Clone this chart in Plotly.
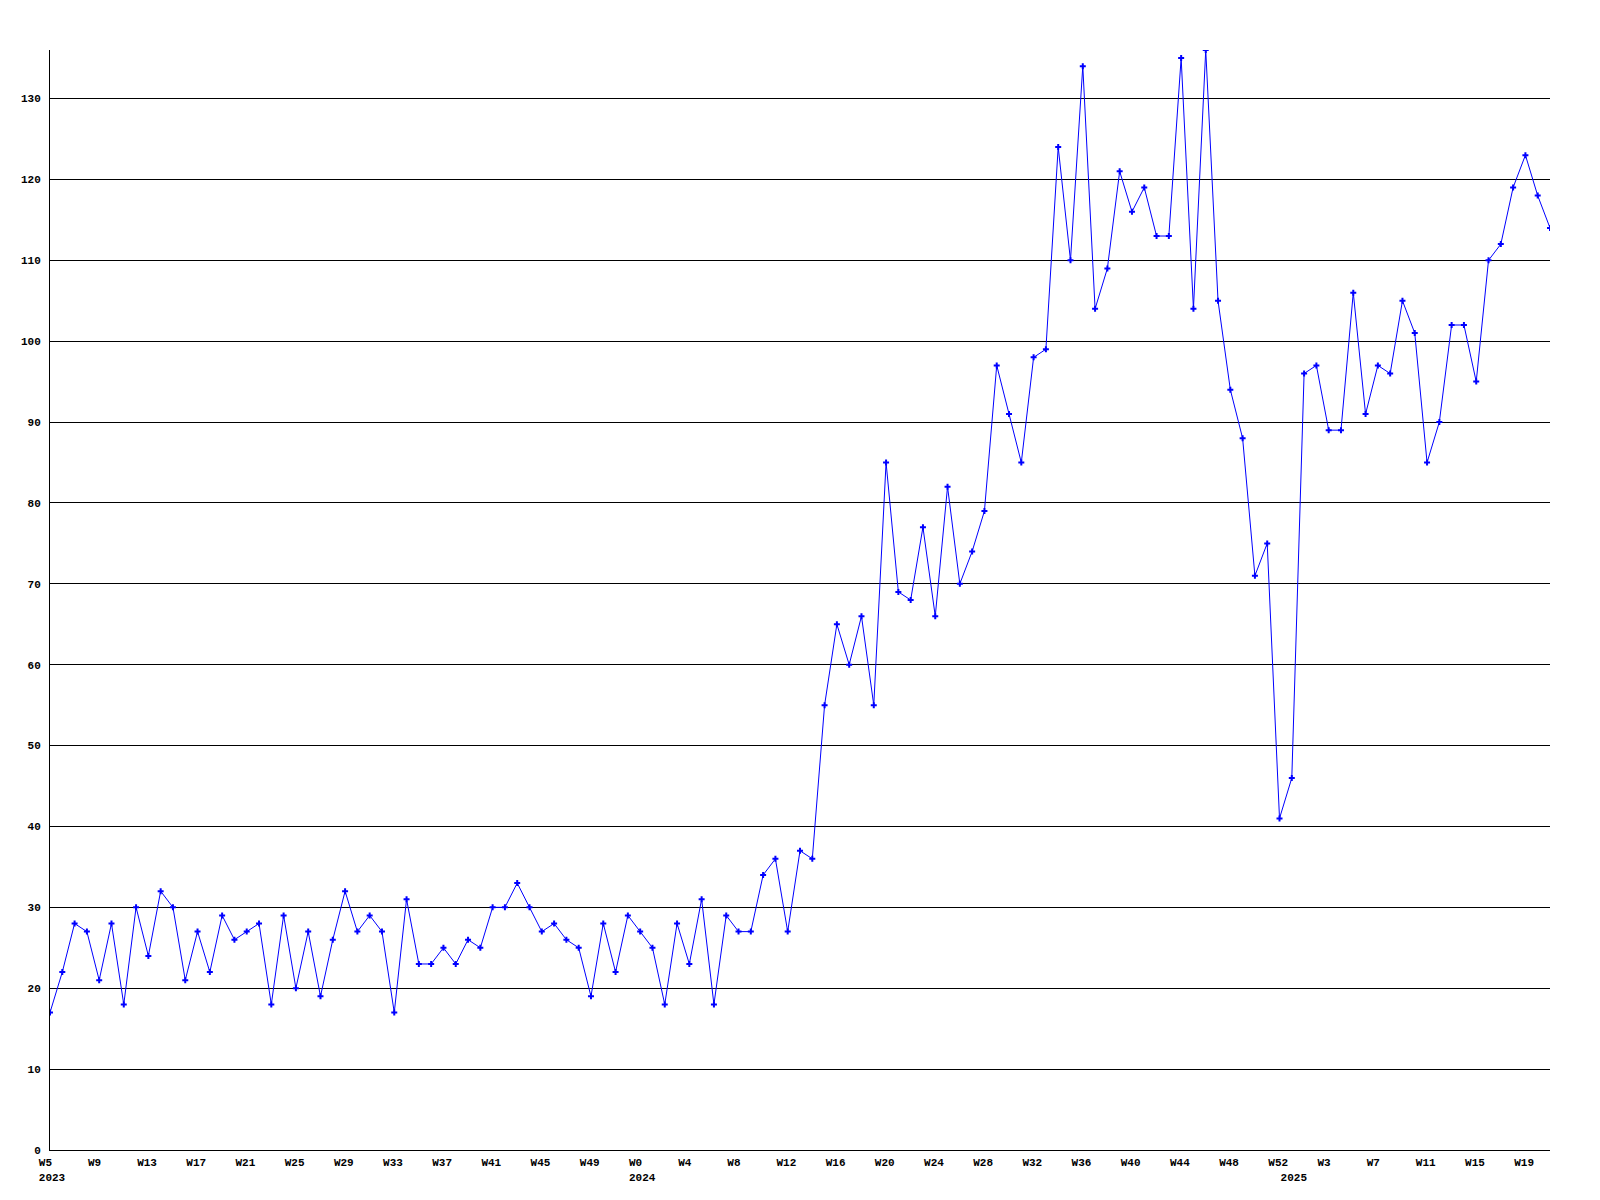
import plotly.graph_objects as go

# Weekly values, one per week, from 2023 W5 to 2025 W21
values = [17, 22, 28, 27, 21, 28, 18, 30, 24, 32,
          30, 21, 27, 22, 29, 26, 27, 28, 18, 29,
          20, 27, 19, 26, 32, 27, 29, 27, 17, 31,
          23, 23, 25, 23, 26, 25, 30, 30, 33, 30,
          27, 28, 26, 25, 19, 28, 22, 29, 27, 25,
          18, 28, 23, 31, 18, 29, 27, 27, 34, 36,
          27, 37, 36, 55, 65, 60, 66, 55, 85, 69,
          68, 77, 66, 82, 70, 74, 79, 97, 91, 85,
          98, 99, 124, 110, 134, 104, 109, 121, 116, 119,
          113, 113, 135, 104, 136, 105, 94, 88, 71, 75,
          41, 46, 96, 97, 89, 89, 106, 91, 97, 96,
          105, 101, 85, 90, 102, 102, 95, 110, 112, 119,
          123, 118, 114]

# Week numbering per year
years = ["2023", "2024", "2025"]
first_weeks = [5, 0, 0]
last_weeks = [52, 52, 21]

y_ticks = list(range(0, 131, 10))
tick_every = 4

# Build the per-point week labels
week_labels = []
year_start_index = {}
for yr, fw, lw in zip(years, first_weeks, last_weeks):
    year_start_index[len(week_labels)] = yr
    for w in range(fw, lw + 1):
        week_labels.append(f"W{w}")

x = list(range(len(values)))

NB = "\u00a0"


def pad(s, n=4):
    return s + NB * max(0, n - len(s))


tickvals = []
ticktext = []
for i in x:
    is_tick = (i % tick_every == 0)
    yr = year_start_index.get(i)
    if is_tick or yr:
        first = pad(week_labels[i]) if is_tick else NB * 4
        txt = first + (f"<br>{yr}" if yr else "")
        tickvals.append(i)
        ticktext.append(txt)

font_family = "Liberation Mono, DejaVu Sans Mono, monospace"

fig = go.Figure()
fig.add_trace(go.Scatter(
    x=x, y=values,
    mode="lines+markers",
    line=dict(color="#0000ff", width=1),
    marker=dict(symbol="cross", size=5, color="#0000ff", line=dict(width=0)),
    showlegend=False,
    hoverinfo="skip",
))

# page body has an 8px default margin, compensate so the plot sits at 50..1550 x 50..1150
fig.update_layout(
    width=1600, height=1200,
    margin=dict(l=42, r=58, t=42, b=58),
    paper_bgcolor="white",
    plot_bgcolor="white",
    showlegend=False,
)

fig.update_xaxes(
    range=[0, len(values) - 1],
    tickmode="array",
    tickvals=tickvals,
    ticktext=ticktext,
    tickangle=0,
    ticks="",
    showgrid=False,
    zeroline=False,
    showline=True,
    linecolor="black",
    linewidth=1,
    tickfont=dict(family=font_family, size=11, color="black", weight="bold"),
    ticklabelshift=2,
    ticklabelstandoff=2,
)

fig.update_yaxes(
    range=[0, 136],
    tickmode="array",
    tickvals=y_ticks,
    ticktext=[str(v) for v in y_ticks],
    ticks="",
    showgrid=True,
    gridcolor="black",
    gridwidth=1,
    zeroline=False,
    showline=True,
    linecolor="black",
    linewidth=1,
    tickfont=dict(family=font_family, size=11, color="black", weight="bold"),
    ticklabelstandoff=6,
)

fig.write_html("out.html")
